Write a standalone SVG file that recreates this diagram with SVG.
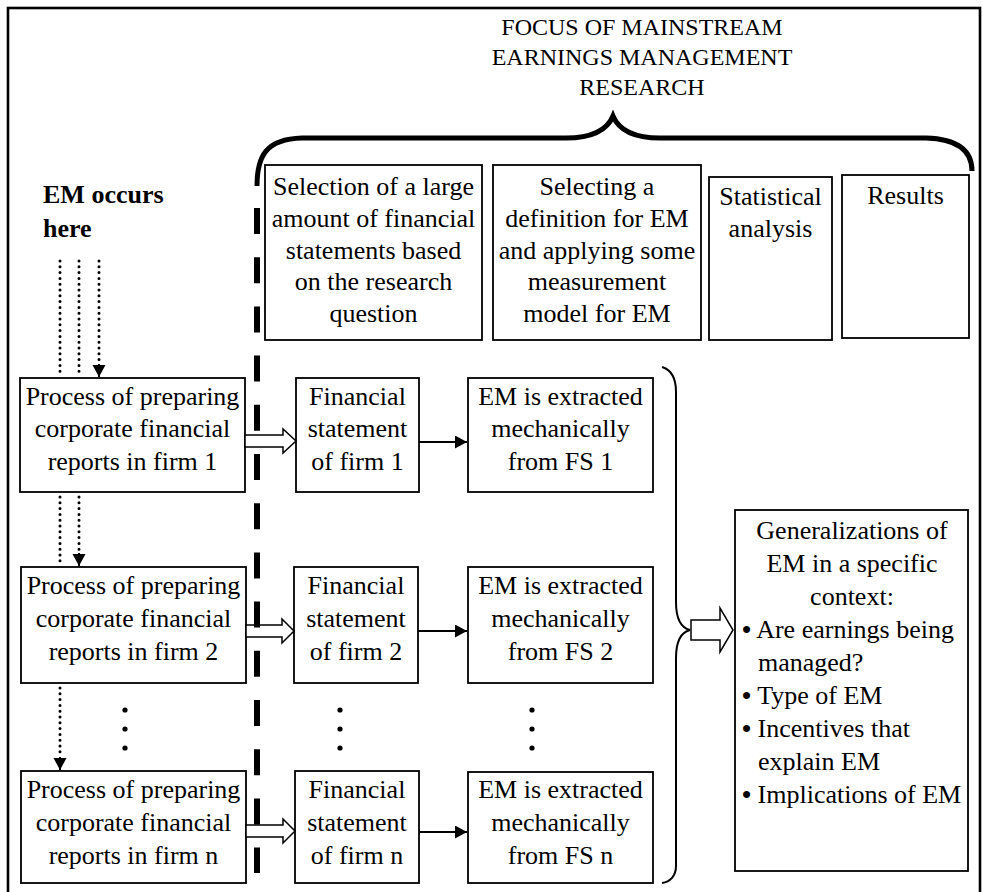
<svg xmlns="http://www.w3.org/2000/svg" width="983" height="892" viewBox="0 0 983 892">
<style>
text{font-family:"Liberation Serif","Times New Roman",serif;font-size:26px;fill:#000}
.c{text-anchor:middle}
.t{font-size:24px}
.b{font-weight:bold}
.bl{font-weight:bold}
.box{fill:#fff;stroke:#000;stroke-width:1.8}
.dot{stroke:#000;stroke-width:3;stroke-dasharray:0 5.8;stroke-linecap:round;fill:none}
.hol{fill:#fff;stroke:#000;stroke-width:1.5}
.sol{stroke:#000;stroke-width:2;fill:none}
.brace{fill:none;stroke:#000}
</style>
<defs>
<marker id="ah" markerUnits="userSpaceOnUse" markerWidth="13" markerHeight="14" refX="12" refY="6.5" orient="auto">
<path d="M0,0 L12,6.5 L0,13 z" fill="#000"/>
</marker>
</defs>
<rect width="983" height="892" fill="#fff"/>
<rect x="8" y="8" width="972" height="890" fill="none" stroke="#000" stroke-width="2.6"/>

<g id="title">
<text class="c t" x="642" y="35">FOCUS OF MAINSTREAM</text>
<text class="c t" x="642" y="65">EARNINGS MANAGEMENT</text>
<text class="c t" x="642" y="95">RESEARCH</text>
</g>

<g id="em-occurs">
<text class="b" x="43" y="203">EM occurs</text>
<text class="b" x="43" y="237">here</text>
</g>

<g id="selection">
<rect class="box" x="265" y="165" width="217" height="175"/>
<text class="c" x="373.5" y="195">Selection of a large</text>
<text class="c" x="373.5" y="227">amount of financial</text>
<text class="c" x="373.5" y="259">statements based</text>
<text class="c" x="373.5" y="290">on the research</text>
<text class="c" x="373.5" y="322">question</text>
</g>
<g id="definition">
<rect class="box" x="493" y="165" width="208" height="175"/>
<text class="c" x="597" y="195">Selecting a</text>
<text class="c" x="597" y="227">definition for EM</text>
<text class="c" x="597" y="259">and applying some</text>
<text class="c" x="597" y="290">measurement</text>
<text class="c" x="597" y="322">model for EM</text>
</g>
<g id="statistical">
<rect class="box" x="709" y="177" width="123" height="163"/>
<text class="c" x="770.5" y="205">Statistical</text>
<text class="c" x="770.5" y="237">analysis</text>
</g>
<g id="results">
<rect class="box" x="842" y="175" width="127" height="163"/>
<text class="c" x="905.5" y="204">Results</text>
</g>

<g id="process-1">
<rect class="box" x="20" y="378" width="225" height="114"/>
<text class="c" x="132.5" y="405">Process of preparing</text>
<text class="c" x="132.5" y="437">corporate financial</text>
<text class="c" x="132.5" y="470">reports in firm 1</text>
</g>
<g id="process-2">
<rect class="box" x="21" y="567" width="225" height="116"/>
<text class="c" x="133.5" y="594">Process of preparing</text>
<text class="c" x="133.5" y="627">corporate financial</text>
<text class="c" x="133.5" y="660">reports in firm 2</text>
</g>
<g id="process-n">
<rect class="box" x="21" y="771" width="225" height="112"/>
<text class="c" x="133.5" y="798">Process of preparing</text>
<text class="c" x="133.5" y="831">corporate financial</text>
<text class="c" x="133.5" y="864">reports in firm n</text>
</g>

<g id="fs-1">
<rect class="box" x="296" y="378" width="123" height="114"/>
<text class="c" x="357.5" y="405">Financial</text>
<text class="c" x="357.5" y="437">statement</text>
<text class="c" x="357.5" y="470">of firm 1</text>
</g>
<g id="fs-2">
<rect class="box" x="294" y="567" width="124" height="116"/>
<text class="c" x="356" y="594">Financial</text>
<text class="c" x="356" y="627">statement</text>
<text class="c" x="356" y="660">of firm 2</text>
</g>
<g id="fs-n">
<rect class="box" x="295" y="771" width="124" height="112"/>
<text class="c" x="357" y="798">Financial</text>
<text class="c" x="357" y="831">statement</text>
<text class="c" x="357" y="864">of firm n</text>
</g>

<g id="em-1">
<rect class="box" x="468" y="378" width="185" height="114"/>
<text class="c" x="560.5" y="405">EM is extracted</text>
<text class="c" x="560.5" y="437">mechanically</text>
<text class="c" x="560.5" y="470">from FS 1</text>
</g>
<g id="em-2">
<rect class="box" x="468" y="567" width="185" height="116"/>
<text class="c" x="560.5" y="594">EM is extracted</text>
<text class="c" x="560.5" y="627">mechanically</text>
<text class="c" x="560.5" y="660">from FS 2</text>
</g>
<g id="em-n">
<rect class="box" x="468" y="772" width="185" height="111"/>
<text class="c" x="560.5" y="798">EM is extracted</text>
<text class="c" x="560.5" y="831">mechanically</text>
<text class="c" x="560.5" y="864">from FS n</text>
</g>

<g id="generalizations">
<rect class="box" x="735" y="510" width="233" height="361"/>
<text class="c" x="852" y="539">Generalizations of</text>
<text class="c" x="852" y="572">EM in a specific</text>
<text class="c" x="852" y="605">context:</text>
<text x="742" y="638"><tspan class="bl">•</tspan> Are earnings being</text>
<text x="758" y="671">managed?</text>
<text x="742" y="704"><tspan class="bl">•</tspan> Type of EM</text>
<text x="742" y="737"><tspan class="bl">•</tspan> Incentives that</text>
<text x="758" y="770">explain EM</text>
<text x="742" y="803"><tspan class="bl">•</tspan> Implications of EM</text>
</g>

<g id="ellipses">
<circle cx="125" cy="710" r="2.6"/><circle cx="125" cy="729" r="2.6"/><circle cx="125" cy="748" r="2.6"/>
<circle cx="340" cy="710" r="2.6"/><circle cx="340" cy="729" r="2.6"/><circle cx="340" cy="748" r="2.6"/>
<circle cx="532" cy="710" r="2.6"/><circle cx="532" cy="729" r="2.6"/><circle cx="532" cy="748" r="2.6"/>
</g>

<g id="connectors">
<line class="dot" x1="60" y1="261" x2="60" y2="376"/>
<line class="dot" x1="79" y1="261" x2="79" y2="376"/>
<line class="dot" x1="99" y1="261" x2="99" y2="364"/>
<line class="sol" x1="99" y1="364" x2="99" y2="377" marker-end="url(#ah)"/>
<line class="dot" x1="60" y1="497" x2="60" y2="565"/>
<line class="dot" x1="79" y1="497" x2="79" y2="553"/>
<line class="sol" x1="79" y1="553" x2="79" y2="566" marker-end="url(#ah)"/>
<line class="dot" x1="60" y1="688" x2="60" y2="757"/>
<line class="sol" x1="60" y1="757" x2="60" y2="770" marker-end="url(#ah)"/>
<polygon class="hol" points="245,435 283,435 283,429 296,441 283,453 283,447 245,447"/>
<polygon class="hol" points="246,625 282,625 282,619 294,631 282,643 282,637 246,637"/>
<polygon class="hol" points="246,825 283,825 283,819 295,831 283,843 283,837 246,837"/>
<line class="sol" x1="419" y1="442" x2="467" y2="442" marker-end="url(#ah)"/>
<line class="sol" x1="418" y1="631" x2="467" y2="631" marker-end="url(#ah)"/>
<line class="sol" x1="419" y1="832" x2="467" y2="832" marker-end="url(#ah)"/>
<line x1="257" y1="208" x2="257" y2="873" stroke="#000" stroke-width="6" stroke-dasharray="26 23.2"/>
<path class="brace" stroke-width="5" d="M257,186 C257,156 266,139 302,138 L566,138 C596,138 608,128 613,116 C618,128 630,138 660,138 L926,138 C960,139 972,152 972,171"/>
<path class="brace" stroke-width="2" d="M662,367 C672,370 676,378 676,392 L676,602 C676,620 682,628 690,630 C682,632 676,640 676,658 L676,866 C676,876 670,882 662,883"/>
<polygon class="hol" points="691,620 720,620 720,608 733,630 720,652 720,640 691,640"/>
</g>
</svg>
